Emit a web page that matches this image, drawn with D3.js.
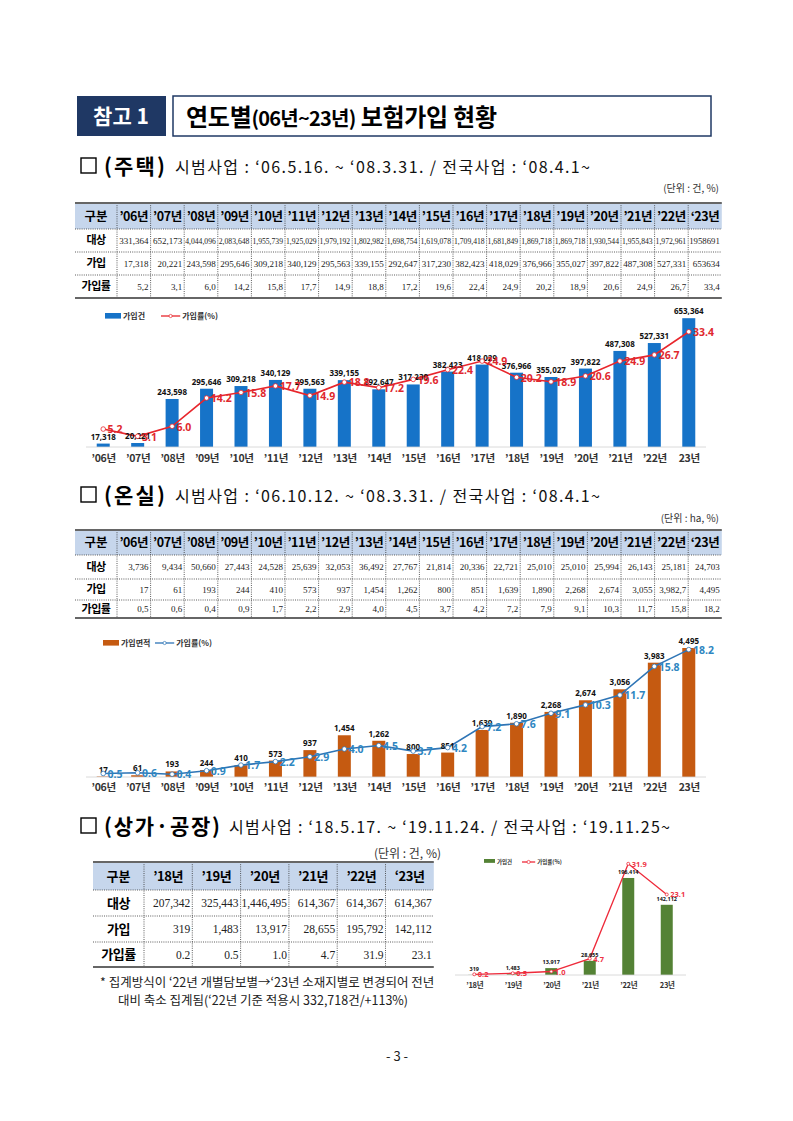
<!DOCTYPE html>
<html>
<head>
<meta charset="utf-8">
<script src="https://cdn.jsdelivr.net/npm/d3@7"></script>
<style>
  body { margin: 0; background: #fff; }
  svg { display: block; }
</style>
</head>
<body>
<script>
// ---- data ----
var years1Head = ["’06년","’07년","’08년","’09년","’10년","’11년","’12년","’13년","’14년","’15년","’16년","’17년","’18년","’19년","’20년","’21년","’22년","‘23년"];
var years1Axis = ["’06년","’07년","’08년","’09년","’10년","’11년","’12년","’13년","’14년","’15년","’16년","’17년","’18년","’19년","’20년","’21년","’22년","23년"];

// 주택 table
var houseTarget = ["331,364","652,173","4,044,096","2,083,648","1,955,739","1,925,029","1,979,192","1,802,982","1,698,754","1,619,078","1,709,418","1,681,849","1,869,718","1,869,718","1,930,544","1,955,843","1,972,961","1958691"];
var houseJoinTxt = ["17,318","20,221","243,598","295,646","309,218","340,129","295,563","339,155","292,647","317,230","382,423","418,029","376,966","355,027","397,822","487,308","527,331","653634"];
var houseRateTxt = ["5,2","3,1","6,0","14,2","15,8","17,7","14,9","18,8","17,2","19,6","22,4","24,9","20,2","18,9","20,6","24,9","26,7","33,4"];
// 주택 chart
var houseJoin = [17318,20221,243598,295646,309218,340129,295563,339155,292647,317230,382423,418029,376966,355027,397822,487308,527331,653364];
var houseRate = [5.2,3.1,6.0,14.2,15.8,17.7,14.9,18.8,17.2,19.6,22.4,24.9,20.2,18.9,20.6,24.9,26.7,33.4];

// 온실 table
var greenTarget = ["3,736","9,434","50,660","27,443","24,528","25,639","32,053","36,492","27,767","21,814","20,336","22,721","25,010","25,010","25,994","26,143","25,181","24,703"];
var greenJoinTxt = ["17","61","193","244","410","573","937","1,454","1,262","800","851","1,639","1,890","2,268","2,674","3,055","3,982,7","4,495"];
var greenRateTxt = ["0,5","0,6","0,4","0,9","1,7","2,2","2,9","4,0","4,5","3,7","4,2","7,2","7,9","9,1","10,3","11,7","15,8","18,2"];
// 온실 chart
var greenJoin = [17,61,193,244,410,573,937,1454,1262,800,851,1639,1890,2268,2674,3056,3983,4495];
var greenRate = [0.5,0.6,0.4,0.9,1.7,2.2,2.9,4.0,4.5,3.7,4.2,7.2,7.6,9.1,10.3,11.7,15.8,18.2];

// 상가·공장
var years3Head = ["’18년","’19년","’20년","’21년","’22년","‘23년"];
var years3Axis = ["’18년","’19년","’20년","’21년","’22년","23년"];
var shopTarget = ["207,342","325,443","1,446,495","614,367","614,367","614,367"];
var shopJoinTxt = ["319","1,483","13,917","28,655","195,792","142,112"];
var shopRateTxt = ["0.2","0.5","1.0","4.7","31.9","23.1"];
var shopJoin = [319,1483,13917,28655,196414,142112];
var shopRate = [0.2,0.5,1.0,4.7,31.9,23.1];

var KR = "'Noto Sans CJK KR', 'Noto Sans', sans-serif";
var SERIF = "'Liberation Serif', 'DejaVu Serif', serif";

var svg = d3.select("body").append("svg")
    .attr("width", 793)
    .attr("height", 1121);
svg.append("rect").attr("width", 793).attr("height", 1121).attr("fill", "#fff");

// ---- title ----
svg.append("rect").attr("x", 77).attr("y", 96).attr("width", 89).attr("height", 40).attr("fill", "#1f3864");
svg.append("text").attr("x", 121).attr("y", 124).attr("text-anchor", "middle")
    .attr("font-family", KR).attr("font-weight", "bold").attr("font-size", 21).attr("fill", "#fff")
    .text("참고 1");
svg.append("rect").attr("x", 173).attr("y", 96).attr("width", 538).attr("height", 40)
    .attr("fill", "#fff").attr("stroke", "#1f3864").attr("stroke-width", 1.5);
var title = svg.append("text").attr("x", 186).attr("y", 126)
    .attr("font-family", KR).attr("font-weight", "bold").attr("font-size", 24).attr("fill", "#000")
    .attr("textLength", 311).attr("lengthAdjust", "spacing");
title.append("tspan").text("연도별");
title.append("tspan").attr("font-size", 20).attr("letter-spacing", -0.5).text("(06년~23년)");
title.append("tspan").text(" 보험가입 현황");

// ---- section headings ----
function heading(y, bold, boldW, rest, restX, restW) {
    svg.append("rect").attr("x", 81).attr("y", y - 15).attr("width", 15).attr("height", 15)
        .attr("fill", "none").attr("stroke", "#000").attr("stroke-width", 1.4);
    svg.append("text").attr("x", 104).attr("y", y + 1)
        .attr("font-family", KR).attr("font-weight", "bold").attr("font-size", 21)
        .attr("textLength", boldW).attr("lengthAdjust", "spacing")
        .text(bold);
    svg.append("text").attr("x", restX).attr("y", y)
        .attr("font-family", KR).attr("font-size", 16).attr("fill", "#111")
        .attr("textLength", restW).attr("lengthAdjust", "spacing")
        .text(rest);
}
function unit(x, y, txt, size) {
    svg.append("text").attr("x", x).attr("y", y).attr("text-anchor", "end")
        .attr("font-family", KR).attr("font-size", size || 10).attr("fill", "#333")
        .text(txt);
}

heading(173, "(주택)", 61, "시범사업 : ‘06.5.16. ~ ‘08.3.31. / 전국사업 : ‘08.4.1~", 175, 415);
unit(719, 192, "(단위 : 건, %)");
heading(502, "(온실)", 61, "시범사업 : ‘06.10.12. ~ ‘08.3.31. / 전국사업 : ‘08.4.1~", 175, 425);
unit(719, 522, "(단위 : ha, %)");
heading(833, "(상가·공장)", 116, "시범사업 : ‘18.5.17. ~ ‘19.11.24. / 전국사업 : ‘19.11.25~", 229, 441);
unit(441, 858, "(단위 : 건, %)", 12);

// ---- tables ----
function drawTable(cfg) {
    var g = svg.append("g");
    var x1 = cfg.x0 + cfg.col0 + cfg.colW * cfg.head.length;
    var rows = cfg.rowY;
    g.append("rect").attr("x", cfg.x0).attr("y", rows[0]).attr("width", x1 - cfg.x0)
        .attr("height", rows[1] - rows[0]).attr("fill", "#c6d6ec");
    // dotted horizontal lines
    for (var r = 1; r < rows.length - 1; r++) {
        g.append("line").attr("x1", cfg.x0).attr("x2", x1).attr("y1", rows[r]).attr("y2", rows[r])
            .attr("stroke", "#333").attr("stroke-width", 0.8).attr("stroke-dasharray", "1,1.2");
    }
    // dotted vertical lines
    for (var c = 0; c < cfg.head.length; c++) {
        var xx = cfg.x0 + cfg.col0 + c * cfg.colW;
        g.append("line").attr("x1", xx).attr("x2", xx).attr("y1", rows[0]).attr("y2", rows[rows.length - 1])
            .attr("stroke", "#333").attr("stroke-width", 0.8).attr("stroke-dasharray", "1,1.2");
    }
    g.append("line").attr("x1", cfg.x0).attr("x2", x1).attr("y1", rows[0]).attr("y2", rows[0])
        .attr("stroke", "#666").attr("stroke-width", 1.8);
    g.append("line").attr("x1", cfg.x0).attr("x2", x1).attr("y1", rows[rows.length - 1]).attr("y2", rows[rows.length - 1])
        .attr("stroke", "#666").attr("stroke-width", 1.8);

    var cy = function (r) { return (rows[r] + rows[r + 1]) / 2; };
    g.append("text").attr("x", cfg.x0 + cfg.col0 / 2).attr("y", cy(0)).attr("dy", "0.36em")
        .attr("text-anchor", "middle").attr("font-family", KR).attr("font-weight", "bold")
        .attr("font-size", cfg.headSize).text("구분");
    cfg.head.forEach(function (h, i) {
        g.append("text").attr("x", cfg.x0 + cfg.col0 + (i + 0.5) * cfg.colW).attr("y", cy(0)).attr("dy", "0.36em")
            .attr("text-anchor", "middle").attr("font-family", KR).attr("font-weight", "bold")
            .attr("font-size", cfg.headSize).attr("letter-spacing", -0.4).text(h);
    });
    cfg.rows.forEach(function (row, r) {
        g.append("text").attr("x", cfg.x0 + cfg.col0 / 2).attr("y", cy(r + 1)).attr("dy", "0.36em")
            .attr("text-anchor", "middle").attr("font-family", KR).attr("font-weight", "bold")
            .attr("font-size", cfg.labelSize).attr("letter-spacing", -0.5).text(row.label);
        row.values.forEach(function (v, i) {
            var t = g.append("text").attr("x", cfg.x0 + cfg.col0 + (i + 1) * cfg.colW - 2).attr("y", cy(r + 1))
                .attr("dy", "0.36em").attr("text-anchor", "end").attr("font-family", SERIF)
                .attr("font-size", cfg.numSize).attr("fill", "#222").text(v);
            var w = t.node().getComputedTextLength();
            if (w > cfg.colW - 3) {
                t.attr("textLength", cfg.colW - 3).attr("lengthAdjust", "spacingAndGlyphs");
            }
        });
    });
}

drawTable({ x0: 75, col0: 42, colW: 33.6, head: years1Head, rowY: [203, 229, 252, 275, 298],
    headSize: 12.5, labelSize: 11, numSize: 9,
    rows: [{ label: "대상", values: houseTarget }, { label: "가입", values: houseJoinTxt }, { label: "가입률", values: houseRateTxt }] });

drawTable({ x0: 75, col0: 42, colW: 33.6, head: years1Head, rowY: [530, 555, 579, 600, 618],
    headSize: 12.5, labelSize: 11, numSize: 9,
    rows: [{ label: "대상", values: greenTarget }, { label: "가입", values: greenJoinTxt }, { label: "가입률", values: greenRateTxt }] });

drawTable({ x0: 93, col0: 51, colW: 48.3, head: years3Head, rowY: [862, 890, 916, 942, 967],
    headSize: 13, labelSize: 13, numSize: 11.5,
    rows: [{ label: "대상", values: shopTarget }, { label: "가입", values: shopJoinTxt }, { label: "가입률", values: shopRateTxt }] });

// ---- combo charts ----
function drawCombo(cfg) {
    var g = svg.append("g");
    var x = d3.scalePoint().domain(cfg.cats).range(cfg.xRange).padding(0.5);
    var yBar = d3.scaleLinear().domain([0, cfg.barMax]).range([cfg.base, cfg.base - cfg.barH]);
    var yRate = d3.scaleLinear().domain([0, cfg.rateMax]).range([cfg.base, cfg.base - cfg.rateH]);

    g.selectAll("rect.bar").data(cfg.bars).enter().append("rect").attr("class", "bar")
        .attr("x", function (d, i) { return x(cfg.cats[i]) - cfg.barW / 2; })
        .attr("y", function (d) { return yBar(d); })
        .attr("width", cfg.barW)
        .attr("height", function (d) { return cfg.base - yBar(d); })
        .attr("fill", cfg.barColor);

    var axis = d3.axisBottom(x).tickSize(0).tickPadding(cfg.tickPad);
    var ax = g.append("g").attr("transform", "translate(0," + cfg.base + ")").call(axis);
    ax.select(".domain").attr("stroke", "#d0d0d0").attr("stroke-width", 0.8)
        .attr("d", "M" + cfg.xRange[0] + ",0H" + cfg.xRange[1]);
    ax.selectAll(".tick text").attr("font-family", KR).attr("font-weight", "bold")
        .attr("font-size", cfg.axisSize).attr("fill", "#333").attr("letter-spacing", -0.3);

    var line = d3.line()
        .x(function (d, i) { return x(cfg.cats[i]); })
        .y(function (d) { return yRate(d); });
    g.append("path").datum(cfg.rates).attr("d", line).attr("fill", "none")
        .attr("stroke", cfg.lineColor).attr("stroke-width", cfg.lineW);

    g.selectAll("text.barlab").data(cfg.bars).enter().append("text").attr("class", "barlab")
        .attr("x", function (d, i) { return x(cfg.cats[i]); })
        .attr("y", function (d) { return yBar(d) - 4; })
        .attr("text-anchor", "middle").attr("font-family", "'Noto Sans', sans-serif").attr("font-weight", "bold")
        .attr("font-size", cfg.barLabSize).attr("fill", "#111")
        .text(function (d) { return d3.format(",")(d); });

    g.selectAll("circle.pt").data(cfg.rates).enter().append("circle").attr("class", "pt")
        .attr("cx", function (d, i) { return x(cfg.cats[i]); })
        .attr("cy", function (d) { return yRate(d); })
        .attr("r", cfg.ptR).attr("fill", "#fff").attr("stroke", cfg.lineColor).attr("stroke-width", 0.8);

    g.selectAll("text.ratelab").data(cfg.rates).enter().append("text").attr("class", "ratelab")
        .attr("x", function (d, i) { return x(cfg.cats[i]) + cfg.ptR + 2; })
        .attr("y", function (d) { return yRate(d) + cfg.rateLabSize * 0.4; })
        .attr("font-family", "'Noto Sans', sans-serif").attr("font-weight", "bold")
        .attr("font-size", cfg.rateLabSize).attr("fill", cfg.rateLabColor)
        .text(function (d) { return d3.format(".1f")(d); });

    // legend
    var lg = g.append("g").attr("transform", "translate(" + cfg.legend[0] + "," + cfg.legend[1] + ")");
    lg.append("rect").attr("x", 0).attr("y", -3).attr("width", cfg.legSize * 2).attr("height", cfg.legSize * 0.7)
        .attr("fill", cfg.barColor);
    lg.append("text").attr("x", cfg.legSize * 2 + 2).attr("y", 0).attr("dy", "0.35em")
        .attr("font-family", KR).attr("font-weight", "bold").attr("font-size", cfg.legSize).attr("fill", "#333")
        .text(cfg.barName);
    var lx = cfg.legGap;
    lg.append("line").attr("x1", lx).attr("x2", lx + cfg.legSize * 2.4).attr("y1", 0).attr("y2", 0)
        .attr("stroke", cfg.lineColor).attr("stroke-width", 1.3);
    lg.append("circle").attr("cx", lx + cfg.legSize * 1.2).attr("cy", 0).attr("r", 1.6)
        .attr("fill", "#fff").attr("stroke", cfg.lineColor).attr("stroke-width", 0.7);
    lg.append("text").attr("x", lx + cfg.legSize * 2.4 + 2).attr("y", 0).attr("dy", "0.35em")
        .attr("font-family", KR).attr("font-weight", "bold").attr("font-size", cfg.legSize).attr("fill", "#333")
        .text("가입률(%)");
}

drawCombo({ cats: years1Axis, bars: houseJoin, rates: houseRate, xRange: [86, 706],
    base: 447, barMax: 700000, barH: 138, rateMax: 40, rateH: 138,
    barW: 13, barColor: "#1673c8", lineColor: "#e8262c", lineW: 1.6, rateLabColor: "#e0282e",
    barLabSize: 8, rateLabSize: 10.5, axisSize: 10.5, tickPad: 8, ptR: 2.3,
    legend: [105, 316], legSize: 8, legGap: 56, barName: "가입건" });

drawCombo({ cats: years1Axis, bars: greenJoin, rates: greenRate, xRange: [86, 706],
    base: 777, barMax: 5000, barH: 143.5, rateMax: 20, rateH: 140,
    barW: 13, barColor: "#c55a11", lineColor: "#2e75b6", lineW: 1.6, rateLabColor: "#2e86c1",
    barLabSize: 8, rateLabSize: 10.5, axisSize: 10.5, tickPad: 7, ptR: 2.3,
    legend: [103, 643], legSize: 8, legGap: 52, barName: "가입면적" });

drawCombo({ cats: years3Axis, bars: shopJoin, rates: shopRate, xRange: [455, 686],
    base: 975, barMax: 250000, barH: 123.5, rateMax: 35, rateH: 122,
    barW: 12, barColor: "#548235", lineColor: "#ee2a3a", lineW: 1.3, rateLabColor: "#ee3344",
    barLabSize: 5.5, rateLabSize: 7.5, axisSize: 7.5, tickPad: 8, ptR: 1.5,
    legend: [484, 862], legSize: 5.5, legGap: 38, barName: "가입건" });

// ---- footnote & page number ----
svg.append("text").attr("x", 100).attr("y", 987).attr("font-family", KR).attr("font-size", 12.5).attr("fill", "#222")
    .text("* 집계방식이 ‘22년 개별담보별→‘23년 소재지별로 변경되어 전년");
svg.append("text").attr("x", 118).attr("y", 1005).attr("font-family", KR).attr("font-size", 12.5).attr("fill", "#222")
    .text("대비 축소 집계됨(‘22년 기준 적용시 332,718건/+113%)");
svg.append("text").attr("x", 397).attr("y", 1061).attr("text-anchor", "middle")
    .attr("font-family", KR).attr("font-size", 13).attr("fill", "#222")
    .text("- 3 -");
</script>
</body>
</html>
